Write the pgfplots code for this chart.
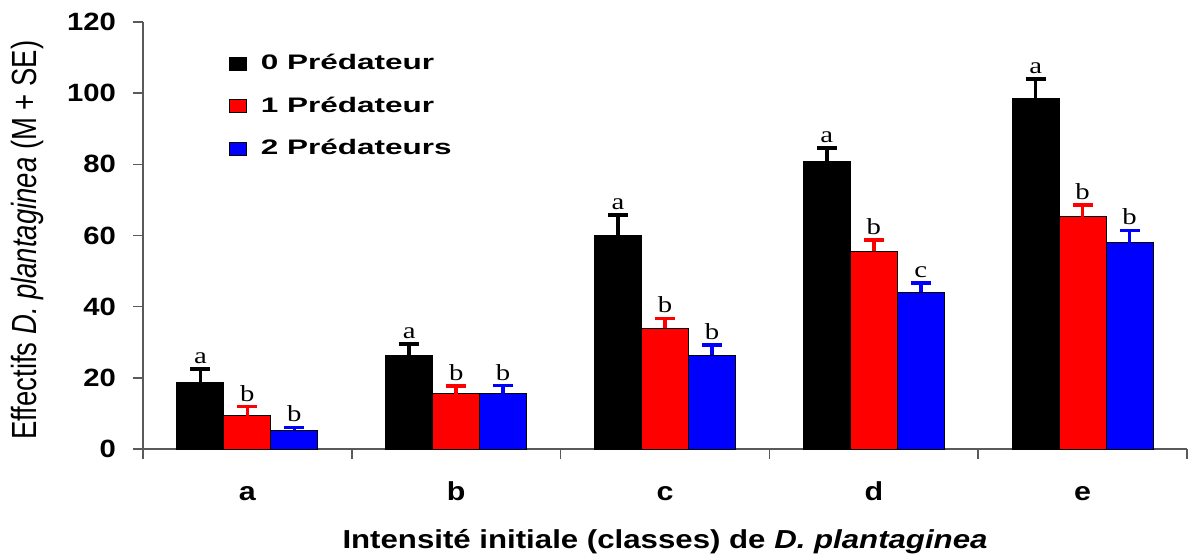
\documentclass[border=0pt]{standalone}
\usepackage{pgfplots}
\pgfplotsset{compat=1.18}
\usepackage{pgfplotstable}
\usepackage{graphicx}
\usepackage{fontspec}
\setmainfont{Liberation Sans}
\newfontfamily\ticksf{Liberation Sans}[FakeStretch=1.17]
\newfontfamily\legsf{Liberation Sans}[FakeStretch=1.5]
\newfontfamily\labsf{Liberation Sans}[FakeStretch=1.2]
\newfontfamily\letsf{Liberation Serif}[FakeStretch=1.25]
\definecolor{axgray}{RGB}{90,90,90}

\pgfplotstableread{
x y err lab
0 18.7 3.8 a
1 26.2 3.3 a
2 60.0 5.8 a
3 80.7 3.9 a
4 98.5 5.5 a
}\zero
\pgfplotstableread{
x y err lab
0 9.4 2.5 b
1 15.6 2.1 b
2 33.9 2.8 b
3 55.6 3.1 b
4 65.3 3.3 b
}\one
\pgfplotstableread{
x y err lab
0 5.3 0.8 b
1 15.6 2.2 b
2 26.4 2.8 b
3 44.0 2.6 c
4 58.0 3.4 b
}\two

\pgfplotsset{
  mybar/.style={ybar, bar width=0.225, bar shift=0, draw=black, line width=0.5pt,
    legend image code/.code={\draw[##1,draw=black,line width=0.4pt] (0pt,-3.25pt) rectangle (8.5pt,3.25pt);}},
  letters/.style={ybar, bar width=0.225, bar shift=0, draw=none, fill=none, forget plot,
    nodes near coords, point meta=explicit symbolic,
    every node near coord/.style={anchor=south, inner sep=2.5pt, text=black,
      font=\letsf\fontsize{11.5}{13}\selectfont}},
}

\begin{document}
\begin{tikzpicture}
\begin{axis}[
  name=ax, scale only axis, width=522pt, height=213.5pt,
  xmin=-0.5, xmax=4.5, ymin=0, ymax=120,
  axis x line=bottom, axis y line=left,
  axis line style={-, draw=axgray, line width=0.8pt},
  tick style={draw=axgray, line width=0.8pt},
  tick align=outside, major tick length=5pt,
  ytick={0,20,...,120},
  xtick={-0.5,0.5,1.5,2.5,3.5,4.5}, xticklabels={},
  extra x ticks={0,1,2,3,4}, extra x tick labels={a,b,c,d,e},
  extra x tick style={major tick length=0pt},
  xticklabel style={anchor=base, yshift=-25.5pt, font=\ticksf\bfseries\fontsize{13}{15}\selectfont},
  yticklabel style={xshift=-5pt, font=\ticksf\bfseries\fontsize{12.5}{15}\selectfont},
  /pgf/number format/assume math mode=true,
  xlabel={Intensité initiale (classes) de \textit{D. plantaginea}},
  xlabel style={at={(axis description cs:0.5,0)}, anchor=base, yshift=-49.5pt,
    font=\labsf\bfseries\fontsize{13}{15}\selectfont},
  ylabel={\scalebox{1}[1.27]{Effectifs \textit{D. plantaginea} (M + SE)}},
  ylabel style={at={(axis description cs:-0.1102,0.489)}, anchor=center,
    font=\fontsize{13.75}{16}\selectfont},
  legend style={draw=none, fill=none, at={(axis description cs:0.082,0.93)}, anchor=north west,
    font=\legsf\bfseries\fontsize{10.5}{12}\selectfont, row sep=10.1pt, inner sep=0pt,
    nodes={inner sep=1pt},
    /tikz/every odd column/.append style={column sep=6pt}},
  legend cell align=left,
  clip=false,
]
\addplot[mybar, fill=black,
  error bars/.cd, y dir=plus, y explicit,
  error bar style={draw=black, line width=1.8pt},
  error mark options={draw=black, rotate=90, mark size=5pt, line width=1.8pt}]
  table[x expr=\thisrow{x}-0.225, y=y, y error=err]{\zero};
\addlegendentry{0 Prédateur}
\addplot[mybar, fill=red,
  error bars/.cd, y dir=plus, y explicit,
  error bar style={draw=red, line width=1.8pt},
  error mark options={draw=red, rotate=90, mark size=5pt, line width=1.8pt}]
  table[x=x, y=y, y error=err]{\one};
\addlegendentry{1 Prédateur}
\addplot[mybar, fill=blue,
  error bars/.cd, y dir=plus, y explicit,
  error bar style={draw=blue, line width=1.8pt},
  error mark options={draw=blue, rotate=90, mark size=5pt, line width=1.8pt}]
  table[x expr=\thisrow{x}+0.225, y=y, y error=err]{\two};
\addlegendentry{2 Prédateurs}
\addplot[letters] table[x expr=\thisrow{x}-0.225, y expr=\thisrow{y}+\thisrow{err}, meta=lab]{\zero};
\addplot[letters] table[x=x, y expr=\thisrow{y}+\thisrow{err}, meta=lab]{\one};
\addplot[letters] table[x expr=\thisrow{x}+0.225, y expr=\thisrow{y}+\thisrow{err}, meta=lab]{\two};
\end{axis}
\pgfresetboundingbox
\path ([shift={(-71.5pt,-52pt)}]ax.south west) rectangle ([shift={(1.5pt,11pt)}]ax.north east);
\end{tikzpicture}
\end{document}
